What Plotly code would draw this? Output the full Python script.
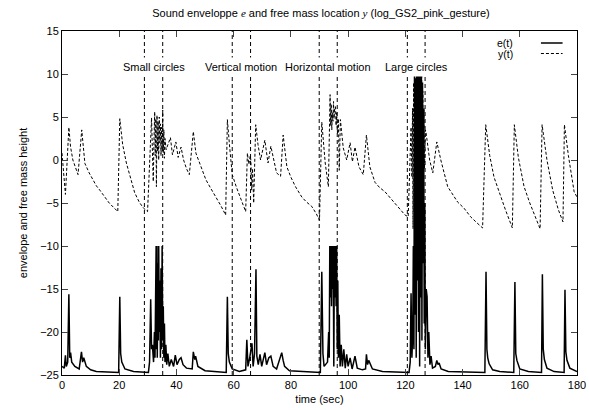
import plotly.graph_objects as go

# y(t): free mass location (dashed)
y_time = [0.0, 0.5, 1.2, 2.4, 3.0, 3.8, 4.6, 5.6, 6.9, 8.0, 9.5, 10.9, 12.0, 13.2, 14.9,
          16.5, 18.0, 19.5, 20.2, 21.2, 22.5, 24.0, 25.4, 27.0, 28.5, 29.9, 31.3,
          31.6, 31.9, 32.2, 32.4, 32.6, 32.8, 33.0, 33.2, 33.4, 33.6, 33.8, 34.0, 34.2,
          34.4, 34.6, 34.8, 35.0, 35.2, 35.4, 35.6, 35.8, 36.0, 36.4, 37.9, 38.6, 39.8,
          40.6, 41.6, 42.5, 43.5, 44.5, 45.9, 46.8, 48.0, 50.3, 52.0, 53.8, 55.5, 57.2,
          57.8, 58.6, 59.5, 61.0, 62.5, 64.2, 64.8, 65.3, 65.8, 66.0, 66.3, 66.6, 67.0,
          67.7, 68.5, 69.4, 70.9, 72.0, 73.0, 74.0, 75.0, 76.4, 77.3, 78.6, 80.0, 81.6,
          83.8, 85.5, 87.3, 88.8, 90.0, 90.8, 92.0, 93.1, 93.7, 93.9, 94.1, 94.3, 94.5,
          94.7, 94.9, 95.1, 95.3, 95.6, 95.8, 96.0, 96.3, 96.6, 96.9, 97.3, 98.3, 99.5,
          100.7, 101.5, 102.4, 103.8, 105.3, 106.4, 107.6, 109.4, 111.0, 112.9, 114.5,
          116.4, 118.0, 119.9, 121.0, 122.0, 122.3, 122.5, 122.7, 122.9, 123.1, 123.3,
          123.5, 123.7, 123.9, 124.1, 124.3, 124.5, 124.7, 124.9, 125.1, 125.3, 125.5,
          125.7, 125.9, 126.1, 126.3, 126.5, 126.7, 127.0, 127.2, 128.5, 129.6, 131.0,
          132.4, 134.8, 136.5, 138.3, 140.5, 142.8, 145.0, 147.0, 148.1, 149.5, 151.0,
          153.0, 155.0, 157.4, 158.1, 159.5, 161.5, 163.5, 165.5, 167.1, 167.8, 169.5,
          171.5, 173.5, 175.1, 175.6, 177.0, 179.0, 180.0]
y_vals = [0.8, -1.5, -4.0, 3.8, 1.5, 0.0, -0.8, -1.7, 3.5, -0.4, -1.5, -2.3, -3.0, -3.5, -4.3,
          -5.0, -5.5, -6.0, 4.8, 1.8, -0.35, -2.2, -3.8, -4.9, -5.6, -6.0, 4.9,
          1.0, -2.5, 3.0, 5.6, 0.5, 4.8, -3.1, 5.2, 1.0, 4.5, 0.0, 5.0, 2.0,
          4.2, 0.5, 3.8, 1.0, 5.8, 0.8, 3.5, 0.2, 2.5, 1.2, 2.6, 0.6, 2.1,
          0.3, 1.5, 0.0, -1.0, -1.7, 3.3, 0.8, -0.35, -2.3, -3.3, -4.3, -5.3, -6.4,
          4.7, 1.5, -1.7, -3.2, -4.6, -6.0, 0.8, -0.5, 0.5, 0.0, -3.5, -1.0, -5.0,
          4.1, 1.8, 0.0, 2.3, -0.35, 1.6, 0.0, -1.5, -1.9, 2.9, -0.8, -2.0, -3.1,
          -4.3, -4.9, -5.4, -6.2, -7.0, 4.4, -0.35, -3.1, 7.6, 4.0, 6.5, 3.5, 5.5,
          4.5, 6.8, 4.8, 6.0, 6.2, 4.0, 5.5, 3.0, 4.8, -1.2, 4.7, 1.4, 0.0,
          2.0, -0.2, 1.5, -0.8, -1.7, 2.9, -0.8, -2.6, -3.2, -3.7, -4.3,
          -5.0, -5.7, -6.4, -6.6, 3.8, -2.0, 6.0, -8.0, 9.0, -6.0, 10.0,
          -10.0, 9.0, -4.0, 10.0, -9.0, 9.5, -7.0, 10.0, -10.0, 9.0, -5.0,
          10.0, -8.0, 8.0, -3.0, 6.0, -1.0, 3.5, 3.3, 0.0, -1.5, 2.1,
          0.0, -3.1, -4.0, -4.9, -5.6, -6.6, -7.3, -7.9, 4.1, 0.5, -2.0,
          -4.0, -5.8, -7.9, 4.1, 0.3, -3.1, -5.0, -6.7, -8.0, 4.1, 0.0,
          -3.5, -5.8, -7.2, 4.1, 0.5, -3.7, -4.3]

# e(t): sound envelope (solid)
e_time = [0.0, 0.8, 1.2, 1.5, 2.0, 2.4, 2.7, 3.0, 3.4, 4.5, 6.0, 6.8, 7.2, 7.6, 8.5, 10.0,
          12.0, 19.8, 20.2, 20.5, 20.9, 22.0, 25.0, 30.2, 30.6, 31.0, 31.3, 31.6, 32.0,
          32.3, 32.5, 32.7, 32.9, 33.0, 33.2, 33.3, 33.5, 33.7, 33.8, 34.0, 34.2, 34.4,
          34.6, 34.8, 35.0, 35.2, 35.4, 35.6, 35.8, 36.0, 36.3, 36.6, 37.0, 37.5, 38.2,
          39.0, 39.6, 40.2, 41.0, 41.6, 42.3, 43.5, 45.5, 45.9, 46.4, 46.7, 47.5, 50.0,
          57.4, 57.8, 58.1, 58.5, 59.5, 62.0, 64.2, 64.6, 65.0, 65.6, 66.4, 66.8, 67.3,
          67.8, 68.1, 68.6, 69.2, 69.8, 70.9, 71.5, 72.3, 73.0, 73.8, 75.0, 76.8, 77.3,
          77.8, 79.5, 90.3, 90.8, 91.2, 91.6, 92.8, 93.2, 93.4, 93.6, 93.8, 94.0, 94.2,
          94.4, 94.6, 94.8, 95.0, 95.2, 95.4, 95.6, 95.8, 96.0, 96.2, 96.4, 96.6, 96.9,
          97.2, 97.6, 98.0, 98.5, 99.0, 99.5, 100.0, 100.7, 101.4, 102.4, 103.2, 105.0,
          106.1, 106.4, 106.8, 107.2, 108.5, 112.0, 121.3, 121.7, 122.0, 122.3, 122.6,
          122.8, 123.0, 123.2, 123.4, 123.6, 123.8, 124.0, 124.2, 124.4, 124.6, 124.8,
          125.0, 125.2, 125.4, 125.6, 125.8, 126.0, 126.2, 126.4, 126.6, 126.8, 127.0,
          127.3, 127.6, 127.9, 128.2, 128.6, 129.0, 129.5, 130.5, 131.0, 131.4, 131.8,
          132.5, 135.0, 147.8, 148.2, 148.5, 148.8, 149.3, 150.5, 153.0, 157.9, 158.3,
          158.6, 159.0, 160.0, 163.0, 167.6, 167.9, 168.2, 168.6, 169.5, 172.0, 175.5,
          175.8, 176.1, 176.5, 177.5, 180.0]
e_vals = [-24.0, -24.2, -22.7, -24.0, -23.5, -15.6, -23.0, -22.4, -23.5, -24.0, -24.3, -22.3,
          -23.5, -23.0, -24.0, -24.4, -24.6, -24.7, -15.9, -22.5, -23.5, -24.3, -24.6,
          -24.7, -23.5, -16.2, -22.0, -21.5, -23.5, -20.0, -23.0, -18.0, -10.0, -22.0,
          -10.0, -23.0, -12.0, -21.0, -10.0, -20.0, -14.0, -23.0, -12.6, -22.0, -10.0,
          -21.0, -17.0, -23.0, -19.0, -23.5, -21.5, -23.8, -22.5, -24.0, -23.2, -24.0,
          -22.7, -23.8, -23.2, -23.0, -23.8, -24.2, -24.3, -22.3, -23.2, -22.8, -24.0,
          -24.5, -24.7, -15.9, -22.5, -23.5, -24.3, -24.6, -24.4, -20.9, -24.0, -23.0,
          -21.3, -24.0, -22.5, -12.7, -22.8, -23.8, -22.6, -24.0, -22.4, -23.8, -23.0,
          -22.8, -24.0, -24.3, -22.4, -23.3, -24.0, -24.5, -24.7, -13.0, -22.5, -24.0,
          -23.5, -20.0, -23.0, -10.0, -16.0, -10.0, -17.0, -10.0, -15.0, -10.0, -24.0,
          -10.0, -16.0, -10.0, -17.0, -10.0, -22.0, -14.0, -23.0, -18.0, -24.0, -21.5,
          -24.0, -22.0, -24.2, -22.6, -24.0, -23.0, -24.3, -22.8, -24.2, -24.4, -24.3,
          -22.6, -23.8, -23.3, -24.3, -24.6, -24.7, -23.5, -15.5, -23.0, -20.0, -10.0,
          -22.0, 10.0, -18.0, 9.5, -23.0, 10.0, -14.0, 10.0, -20.0, 9.8, -24.0, 10.0,
          -16.0, 10.0, -21.0, 9.0, -12.0, 6.0, -19.0, -5.0, -22.0, -15.0, -15.9, -23.0,
          -20.0, -23.8, -22.8, -24.2, -24.0, -23.3, -23.8, -23.6, -24.3, -24.6, -24.7,
          -13.0, -22.0, -23.0, -23.7, -24.4, -24.6, -24.7, -14.2, -22.5, -23.3, -24.3,
          -24.6, -24.7, -13.3, -22.0, -23.2, -24.2, -24.6, -24.7, -15.1, -22.3, -23.3,
          -24.2, -24.6]

# gesture phases: start/end times and names
phase_bounds = [28.8, 35.2, 59.5, 65.9, 89.9, 96.2, 120.7, 126.9]
phase_names = ["Small circles", "Vertical motion", "Horizontal motion", "Large circles"]

FONT = "Liberation Sans, Arial, sans-serif"
SERIF = "Liberation Serif, serif"

fig = go.Figure()
fig.add_trace(go.Scatter(x=e_time, y=e_vals, mode="lines", name="e(t)",
                         line=dict(color="black", width=1.5)))
fig.add_trace(go.Scatter(x=y_time, y=y_vals, mode="lines", name="y(t)",
                         line=dict(color="black", width=1, dash="3px,2px")))

for t in phase_bounds:
    fig.add_shape(type="line", x0=t, x1=t, y0=-25, y1=15, xref="x", yref="y",
                  line=dict(color="black", width=1, dash="4px,3px"), layer="above")

for i, name in enumerate(phase_names):
    mid = (phase_bounds[2 * i] + phase_bounds[2 * i + 1]) / 2
    fig.add_annotation(x=mid, y=10.8, xref="x", yref="y", text=name, showarrow=False,
                       font=dict(size=11, color="black", family=FONT),
                       bgcolor="white", borderpad=3)

# gnuplot style key (text then sample)
for j, (lab, dash) in enumerate([("e(t)", "solid"), ("y(t)", "3px,2px")]):
    yy = 1 - (12 + j * 10.5) / 344
    fig.add_annotation(x=0.88, y=yy, xref="paper", yref="paper", text=lab,
                       showarrow=False, xanchor="right", yanchor="middle",
                       font=dict(size=10.5, color="black", family=FONT))
    fig.add_shape(type="line", x0=0.93, x1=0.972, y0=yy, y1=yy, xref="paper", yref="paper",
                  line=dict(color="black", width=1.5 if j == 0 else 1, dash=dash))

title_txt = ("Sound enveloppe <span style='font-family:" + SERIF + "'><i>e</i></span>"
             " and free mass location <span style='font-family:" + SERIF + "'><i>y</i></span>"
             " (log_GS2_pink_gesture)")

fig.update_layout(
    width=589, height=410,
    margin=dict(l=62, r=12, t=31, b=35),
    paper_bgcolor="white", plot_bgcolor="white",
    showlegend=False,
    font=dict(family=FONT, size=11, color="black"),
    title=dict(text=title_txt, x=0.545, xanchor="center", y=1 - 13 / 410, yanchor="middle",
               font=dict(size=11, color="black", family=FONT)),
    xaxis=dict(range=[0, 180], tickvals=list(range(0, 181, 20)), ticks="inside", ticklen=6,
               mirror="ticks", showline=True, linecolor="black", linewidth=1,
               showgrid=False, zeroline=False, automargin=False,
               title=dict(text="time (sec)", standoff=5, font=dict(size=11, family=FONT)),
               tickfont=dict(size=11)),
    yaxis=dict(range=[-25, 15], tickvals=list(range(-25, 16, 5)), ticks="inside", ticklen=6,
               mirror="ticks", showline=True, linecolor="black", linewidth=1,
               showgrid=False, zeroline=False, automargin=False,
               title=dict(text="envelope and free mass height", standoff=10,
                          font=dict(size=11, family=FONT)),
               tickfont=dict(size=11)),
)

# drop the default page margin so the figure sits at the window origin
fig.write_html("out.html", config={"displayModeBar": False},
               post_script="document.body.style.margin='0';")
